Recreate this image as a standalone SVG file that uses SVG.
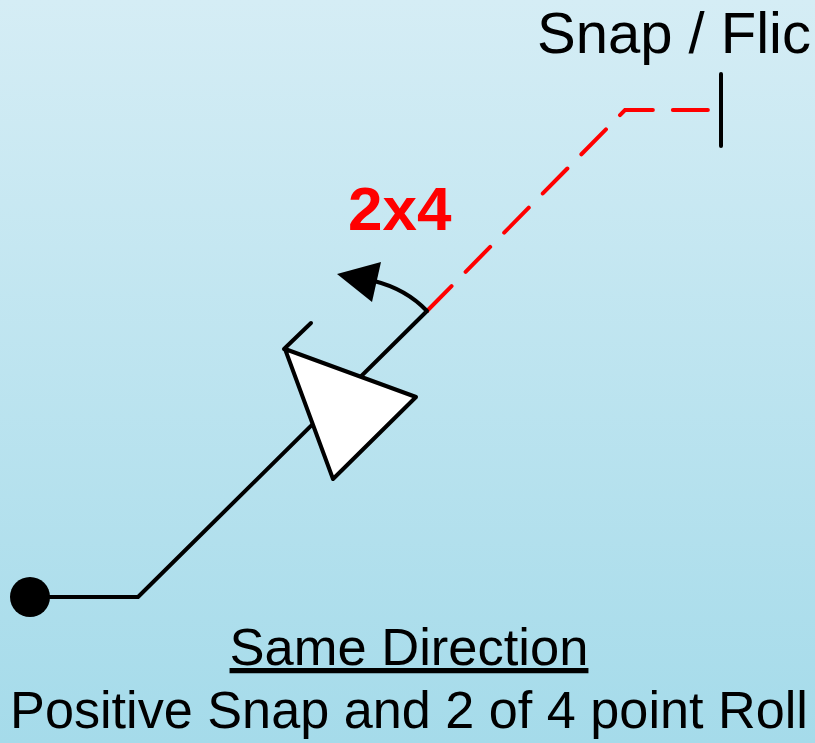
<svg xmlns="http://www.w3.org/2000/svg" width="815" height="743" viewBox="0 0 815 743">
<defs>
<linearGradient id="bg" x1="0" y1="0" x2="0" y2="1">
<stop offset="0" stop-color="#d5edf5"/>
<stop offset="1" stop-color="#a5dbea"/>
</linearGradient>
</defs>
<style>
.blk{stroke:#000;stroke-width:4;fill:none;stroke-linecap:round;stroke-linejoin:round}
.red{stroke:#ff0000;stroke-width:4;fill:none;stroke-dasharray:35 20;stroke-linecap:round}
.t{font-family:"Liberation Sans",Arial,sans-serif;fill:#000}
</style>
<rect width="815" height="743" fill="url(#bg)"/>
<g id="connectors">
<polyline class="blk" points="30,597 138,597 427,311"/>
<polyline class="red" points="427,311 625,110 718,110"/>
<line class="blk" x1="721" y1="74" x2="721" y2="146"/>
<line class="blk" x1="284" y1="349" x2="311" y2="323"/>
<path class="blk" d="M427,311 Q406,289 374,281"/>
<polygon points="337,274 381,262 372,302" fill="#000"/>
</g>
<g id="start-dot"><circle cx="30" cy="597" r="20" fill="#000"/></g>
<g id="roll-triangle"><polygon points="285,349 416,397 333,479" fill="#fff" stroke="#000" stroke-width="4" stroke-linejoin="round"/></g>
<g id="label-2x4"><text x="348" y="230" font-family="Liberation Sans, Arial, sans-serif" font-size="62" font-weight="bold" fill="#ff0000">2x4</text></g>
<g id="label-snap"><text class="t" x="537" y="53" font-size="58">Snap / Flic</text></g>
<g id="caption">
<text class="t" x="409" y="665" font-size="52.5" text-anchor="middle" text-decoration="underline">Same Direction</text>
<text class="t" x="409" y="728" font-size="52.2" text-anchor="middle">Positive Snap and 2 of 4 point Roll</text>
</g>
</svg>
